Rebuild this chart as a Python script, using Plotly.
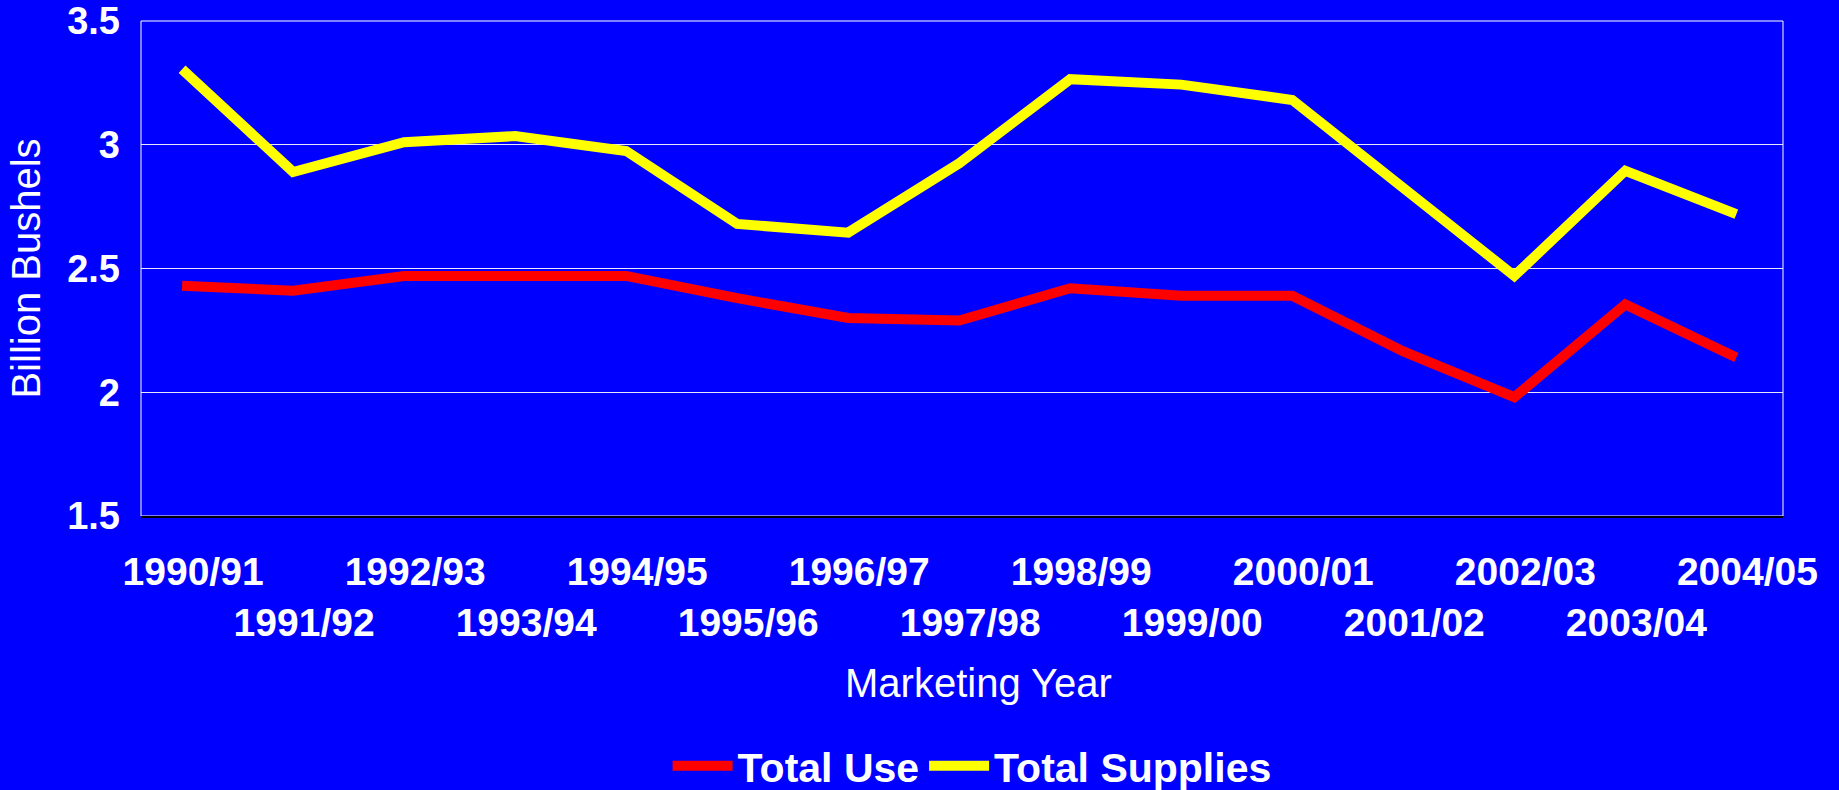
import plotly.graph_objects as go

# marketing years (categories) and series in billion bushels
years = ["1990/91", "1991/92", "1992/93", "1993/94", "1994/95", "1995/96", "1996/97",
         "1997/98", "1998/99", "1999/00", "2000/01", "2001/02", "2002/03", "2003/04", "2004/05"]
total_use = [2.43, 2.41, 2.47, 2.47, 2.47, 2.38, 2.30, 2.29, 2.42, 2.39, 2.39, 2.165, 1.98, 2.355, 2.14]
total_supplies = [3.305, 2.89, 3.01, 3.035, 2.975, 2.68, 2.645, 2.925, 3.265, 3.243, 3.181, 2.83, 2.47, 2.895, 2.72]
y_ticks = [1.5, 2, 2.5, 3, 3.5]
y_tick_text = ["1.5", "2", "2.5", "3", "3.5"]

# staggered tick labels, alternating between two rows
x_pos = list(range(len(years)))
tick_text = [y + "<br> " if i % 2 == 0 else " <br>" + y for i, y in enumerate(years)]

FONT = "Liberation Sans, Arial, sans-serif"
BLUE = "#0000FF"

fig = go.Figure()
fig.add_trace(go.Scatter(x=x_pos, y=total_use, mode="lines", name="Total Use",
                         line=dict(color="#FF0000", width=10)))
fig.add_trace(go.Scatter(x=x_pos, y=total_supplies, mode="lines", name="Total Supplies",
                         line=dict(color="#FFFF00", width=10)))

# plot border (white), bottom axis line drawn black on top
fig.add_shape(type="rect", xref="x domain", yref="y domain", x0=0, x1=1, y0=0, y1=1,
              line=dict(color="white", width=1), layer="below")

# x axis title
fig.add_annotation(text="Marketing Year", xref="x domain", x=0.5, xshift=16,
                   yref="paper", y=-0.3374, yanchor="middle", showarrow=False,
                   font=dict(size=40, family=FONT, color="white"))

fig.update_layout(
    width=1839, height=790,
    paper_bgcolor=BLUE, plot_bgcolor=BLUE,
    margin=dict(l=141, r=56, t=21, b=274),
    font=dict(family=FONT, color="white"),
    showlegend=True,
    legend=dict(orientation="h", xref="container", x=0.5286, xanchor="center",
                yref="container", y=1 - 766 / 790, yanchor="middle",
                font=dict(size=41, family=FONT, color="white", weight="bold"),
                bgcolor="rgba(0,0,0,0)", itemwidth=60, traceorder="normal"),
    xaxis=dict(
        range=[-0.37, 14.42], tickmode="array", tickvals=x_pos, ticktext=tick_text,
        tickangle=0, automargin=False,
        tickfont=dict(size=39, family=FONT, color="white", weight="bold"),
        showgrid=False, zeroline=False, showline=True, linecolor="black", linewidth=2,
        ticks="", ticklabelstandoff=20, ticklabelshift=11,
    ),
    yaxis=dict(
        range=[1.5, 3.5], tickmode="array", tickvals=y_ticks, ticktext=y_tick_text,
        automargin=False,
        tickfont=dict(size=38, family=FONT, color="white", weight="bold"),
        showgrid=True, gridcolor="#E8E8FF", gridwidth=1, zeroline=False,
        showline=False, ticks="", ticklabelstandoff=20,
        title=dict(text="Billion Bushels", font=dict(size=40, family=FONT, color="white"), standoff=14),
    ),
)

fig.write_html("out.html", config={"displayModeBar": False},
               post_script="document.body.style.margin='0';document.body.style.background='#0000FF';")
